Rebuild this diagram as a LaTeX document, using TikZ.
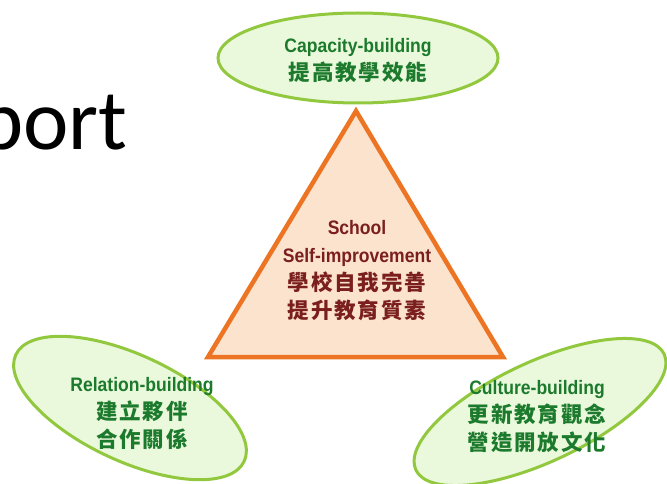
\documentclass[tikz,border=0pt]{standalone}
\usepackage{fontspec}
\usetikzlibrary{shapes.geometric}
\setmainfont{Liberation Sans}
\newfontfamily\enfont{Liberation Sans}
\newfontfamily\cjkfont[LetterSpace=9]{Noto Sans CJK TC}
\newfontfamily\portfont{Carlito}
\definecolor{ellfill}{HTML}{EAF8DC}
\definecolor{elldraw}{HTML}{92C83E}
\definecolor{txtgreen}{HTML}{1C7A2C}
\definecolor{trifill}{HTML}{FCE3CE}
\definecolor{tridraw}{HTML}{EC7422}
\definecolor{txtred}{HTML}{7A1E1E}
\newcommand\enl[1]{\scalebox{0.9}[1]{\enfont\bfseries #1}}
\newcommand\cjl[1]{{\cjkfont\bfseries\fontsize{21.5}{28}\selectfont #1}}
\tikzset{
  ell/.style={shape=ellipse, draw=elldraw, fill=ellfill, line width=3pt, inner sep=0pt},
  tri/.style={draw=tridraw, fill=trifill, line width=4.5pt, line join=miter},
  lbl/.style={align=center, inner sep=0pt, font=\fontsize{19.5}{28}\selectfont},
  gtxt/.style={lbl, text=txtgreen},
  rtxt/.style={lbl, text=txtred}
}
\begin{document}
\begin{tikzpicture}[x=1pt,y=-1pt]
\useasboundingbox (0,0) rectangle (667,484);
\clip (0,0) rectangle (667,484);
\node[anchor=base west, inner sep=0pt, font=\portfont\fontsize{86}{86}\selectfont] (port) at (-22,150) {port};
% triangle
\coordinate (apex) at (356,111);
\coordinate (bl) at (208,357);
\coordinate (br) at (503,357);
\filldraw[tri] (apex) -- (bl) -- (br) -- cycle;
% ellipses
\node[ell, minimum width=280, minimum height=90] (cap) at (358,58) {};
\node[ell, minimum width=252, minimum height=106, rotate=-25] (rel) at (130,408) {};
\node[ell, minimum width=274, minimum height=100, rotate=25] (cul) at (540,412) {};
% texts
\node[gtxt] (captxt) at (358,61) {\enl{Capacity-building}\\ \cjl{提高教學效能}};
\node[rtxt] (schtxt) at (357,271) {\enl{School}\\ \enl{Self-improvement}\\ \cjl{學校自我完善}\\ \cjl{提升教育質素}};
\node[gtxt] (reltxt) at (142,413) {\enl{Relation-building}\\ \cjl{建立夥伴}\\ \cjl{合作關係}};
\node[gtxt] (cultxt) at (537,416) {\enl{Culture-building}\\ \cjl{更新教育觀念}\\ \cjl{營造開放文化}};
\end{tikzpicture}
\end{document}
